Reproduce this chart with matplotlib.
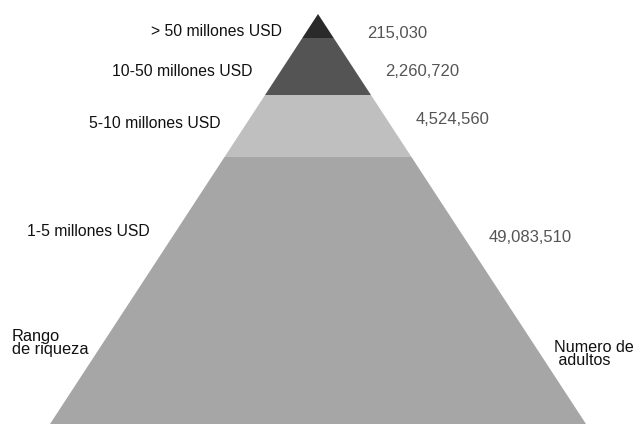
import matplotlib
matplotlib.use("Agg")
import matplotlib.pyplot as plt
from matplotlib.patches import Polygon

# Data
categories = ["> 50 millones USD", "10-50 millones USD", "5-10 millones USD", "1-5 millones USD"]
values = [215030, 2260720, 4524560, 49083510]
value_labels = [f"{v:,}" for v in values]
left_title = "Rango\nde riqueza"
right_title = "Numero de\n adultos"

# Style / layout
colors = ["#2a2a2a", "#545454", "#bfbfbf", "#a6a6a6"]
apex = (318, 14)
base_y = 424
base_half = 268
levels = [14, 38, 95, 157, 424]
left_pos = [(282, 32), (253, 71), (221, 124), (150, 231)]
right_pos = [(367, 33), (385, 71), (416, 120), (489, 238)]

narrow = ["Liberation Sans", "DejaVu Sans"]
regular = ["Liberation Sans", "DejaVu Sans"]

fig = plt.figure(figsize=(6.36, 4.24), dpi=100)
ax = fig.add_axes([0, 0, 1, 1])
ax.set_xlim(0, 636)
ax.set_ylim(424, 0)
ax.axis("off")

slope = base_half / (base_y - apex[1])
def hw(y):
    return (y - apex[1]) * slope

for i, c in enumerate(colors):
    y0, y1 = levels[i], levels[i + 1]
    pts = [(apex[0] - hw(y0), y0), (apex[0] + hw(y0), y0),
           (apex[0] + hw(y1), y1), (apex[0] - hw(y1), y1)]
    ax.add_patch(Polygon(pts, closed=True, facecolor=c, edgecolor="none"))

for cat, (x, y) in zip(categories, left_pos):
    ax.text(x, y, cat, ha="right", va="center", fontsize=11.3, family=narrow, color="#111111")
for lab, (x, y) in zip(value_labels, right_pos):
    ax.text(x, y, lab, ha="left", va="center", fontsize=12, family=regular, color="#555555")

ax.text(12, 343, left_title, ha="left", va="center", fontsize=11.8, family=narrow,
        color="#111111", linespacing=0.85)
ax.text(554, 354, right_title, ha="left", va="center", fontsize=11.6, family=narrow,
        color="#111111", linespacing=0.85)

fig.savefig("out.png", dpi=100)
